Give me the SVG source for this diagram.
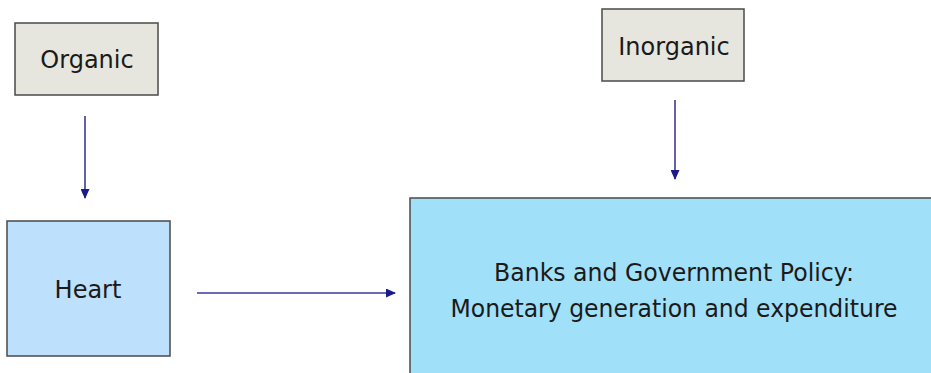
<svg xmlns="http://www.w3.org/2000/svg" width="931" height="373" viewBox="0 0 931 373">
  <defs>
    <marker id="arrow" markerWidth="10" markerHeight="9" refX="9" refY="4.5" orient="auto" markerUnits="userSpaceOnUse">
      <path d="M0,0 L10,4.5 L0,9 Z" fill="#1a1a8a"/>
    </marker>
    <style>
      .box { stroke: #4a4a4a; stroke-width: 1.5; }
      .gray { fill: #e6e6df; }
      .heart { fill: #bde0fd; }
      .main { fill: #a1e0f9; }
      .label { font-family: "DejaVu Sans", "Liberation Sans", sans-serif; font-size: 24px; fill: #1a1a1a; text-anchor: middle; }
      .conn { stroke: #3a3a9a; stroke-width: 1.6; fill: none; marker-end: url(#arrow); }
    </style>
  </defs>
  <rect width="931" height="373" fill="#ffffff"/>

  <g id="organic">
    <rect class="box gray" x="15" y="23" width="143" height="72"/>
    <text class="label" x="87" y="68">Organic</text>
  </g>

  <g id="inorganic">
    <rect class="box gray" x="602" y="9" width="142" height="72"/>
    <text class="label" x="674" y="55">Inorganic</text>
  </g>

  <g id="heart">
    <rect class="box heart" x="7" y="221" width="163" height="135"/>
    <text class="label" x="88" y="298">Heart</text>
  </g>

  <g id="banks">
    <rect class="box main" x="410" y="198" width="530" height="185"/>
    <text class="label" x="674" y="281" textLength="360" lengthAdjust="spacingAndGlyphs">Banks and Government Policy:</text>
    <text class="label" x="674" y="317" textLength="447" lengthAdjust="spacingAndGlyphs">Monetary generation and expenditure</text>
  </g>

  <g id="connectors">
    <line class="conn" x1="85" y1="116" x2="85" y2="198"/>
    <line class="conn" x1="675" y1="100" x2="675" y2="179"/>
    <line class="conn" x1="197" y1="293" x2="395" y2="293"/>
  </g>
</svg>
